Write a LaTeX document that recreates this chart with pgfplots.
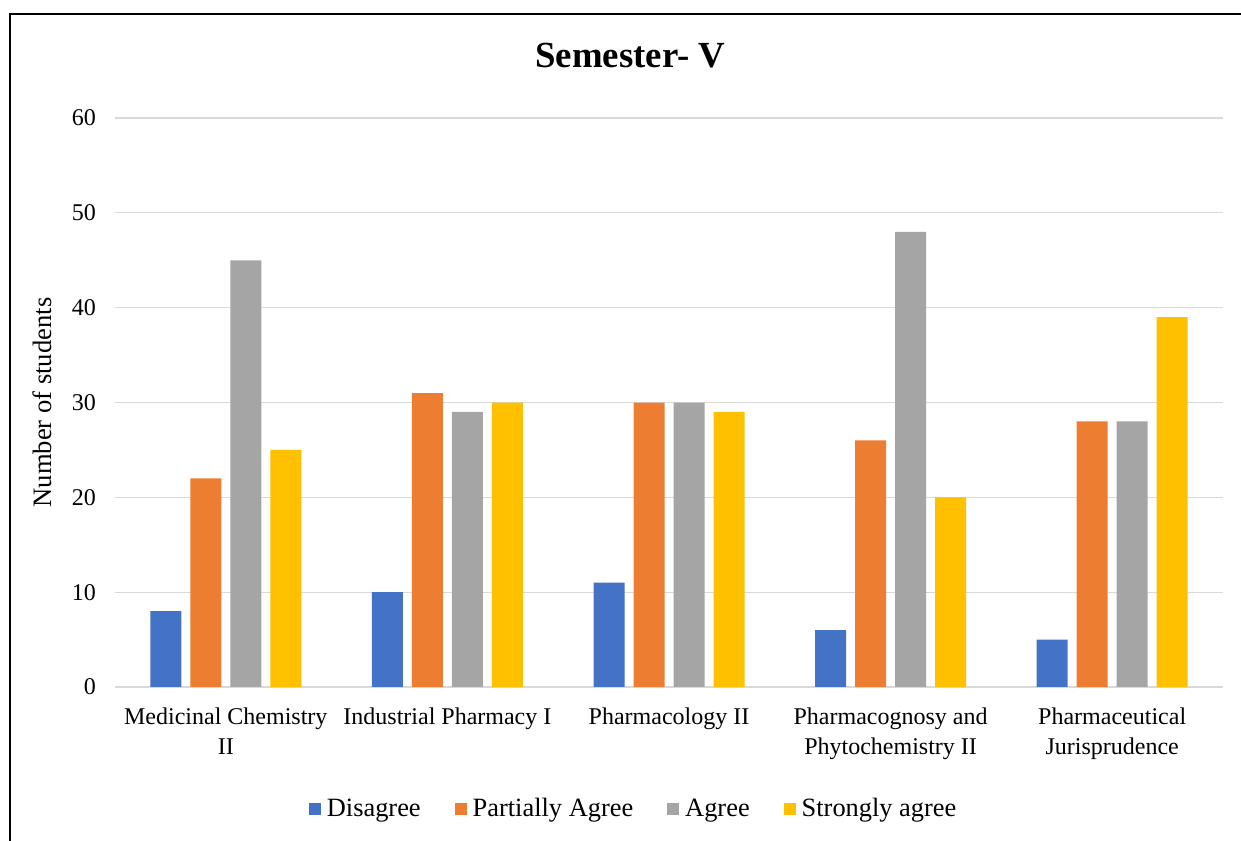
\documentclass[border=0pt]{standalone}
\usepackage{pgfplots}
\pgfplotsset{compat=1.18}
\usepackage{fontspec}
\setmainfont{Liberation Serif}
\definecolor{cblue}{HTML}{4472C4}
\definecolor{corange}{HTML}{ED7D31}
\definecolor{cgray}{HTML}{A5A5A5}
\definecolor{cyellow}{HTML}{FFC000}
\definecolor{cgrid}{HTML}{D9D9D9}
\begin{document}
\begin{tikzpicture}
\useasboundingbox (0,0) rectangle (620.5pt,420pt);
\draw[line width=1.1pt] (5pt,-2pt) -- (5pt,413pt) -- (623pt,413pt);
\begin{axis}[
  at={(57.5pt,76.5pt)}, anchor=south west,
  scale only axis, width=554pt, height=284.5pt,
  ybar=4.5pt, bar width=15.5pt,
  xmin=-0.5, xmax=4.5, ymin=0, ymax=60,
  ytick={0,10,...,60},
  xtick={0,1,2,3,4},
  xticklabels={{Medicinal Chemistry\\II},{Industrial Pharmacy I},{Pharmacology II},{Pharmacognosy and\\Phytochemistry II},{Pharmaceutical\\Jurisprudence}},
  xticklabel style={align=center, font=\fontsize{12}{15}\selectfont, yshift=-7pt},
  yticklabel style={font=\fontsize{12}{14}\selectfont, xshift=-6pt},
  /pgf/number format/assume math mode=true,
  major tick length=0pt,
  ymajorgrids, grid style={cgrid, line width=0.6pt},
  axis x line*=bottom, axis y line*=left,
  x axis line style={cgrid, line width=0.6pt, -},
  y axis line style={draw=none},
  ylabel={Number of students},
  every axis y label/.style={at={(axis description cs:-0.0659,0.5)}, rotate=90, anchor=center, font=\fontsize{13.3}{15}\selectfont},
  title={\textbf{Semester- V}},
  title style={font=\fontsize{18.4}{20}\selectfont, at={(0.465,1)}, anchor=center, yshift=25pt},
  legend style={at={(0.469,-0.215)}, anchor=center, draw=none, legend columns=4, font=\fontsize{13.2}{15}\selectfont,
     /tikz/every even column/.append style={column sep=15pt},
     /tikz/every odd column/.append style={column sep=1pt}},
  legend image code/.code={\fill[#1] (0pt,-3pt) rectangle (6pt,3pt);},
  legend cell align=left,
]
\addplot[draw=none, fill=cblue] coordinates {(0,8) (1,10) (2,11) (3,6) (4,5)};
\addplot[draw=none, fill=corange] coordinates {(0,22) (1,31) (2,30) (3,26) (4,28)};
\addplot[draw=none, fill=cgray] coordinates {(0,45) (1,29) (2,30) (3,48) (4,28)};
\addplot[draw=none, fill=cyellow] coordinates {(0,25) (1,30) (2,29) (3,20) (4,39)};
\legend{Disagree, Partially Agree, Agree, Strongly agree}
\end{axis}
\end{tikzpicture}
\end{document}
